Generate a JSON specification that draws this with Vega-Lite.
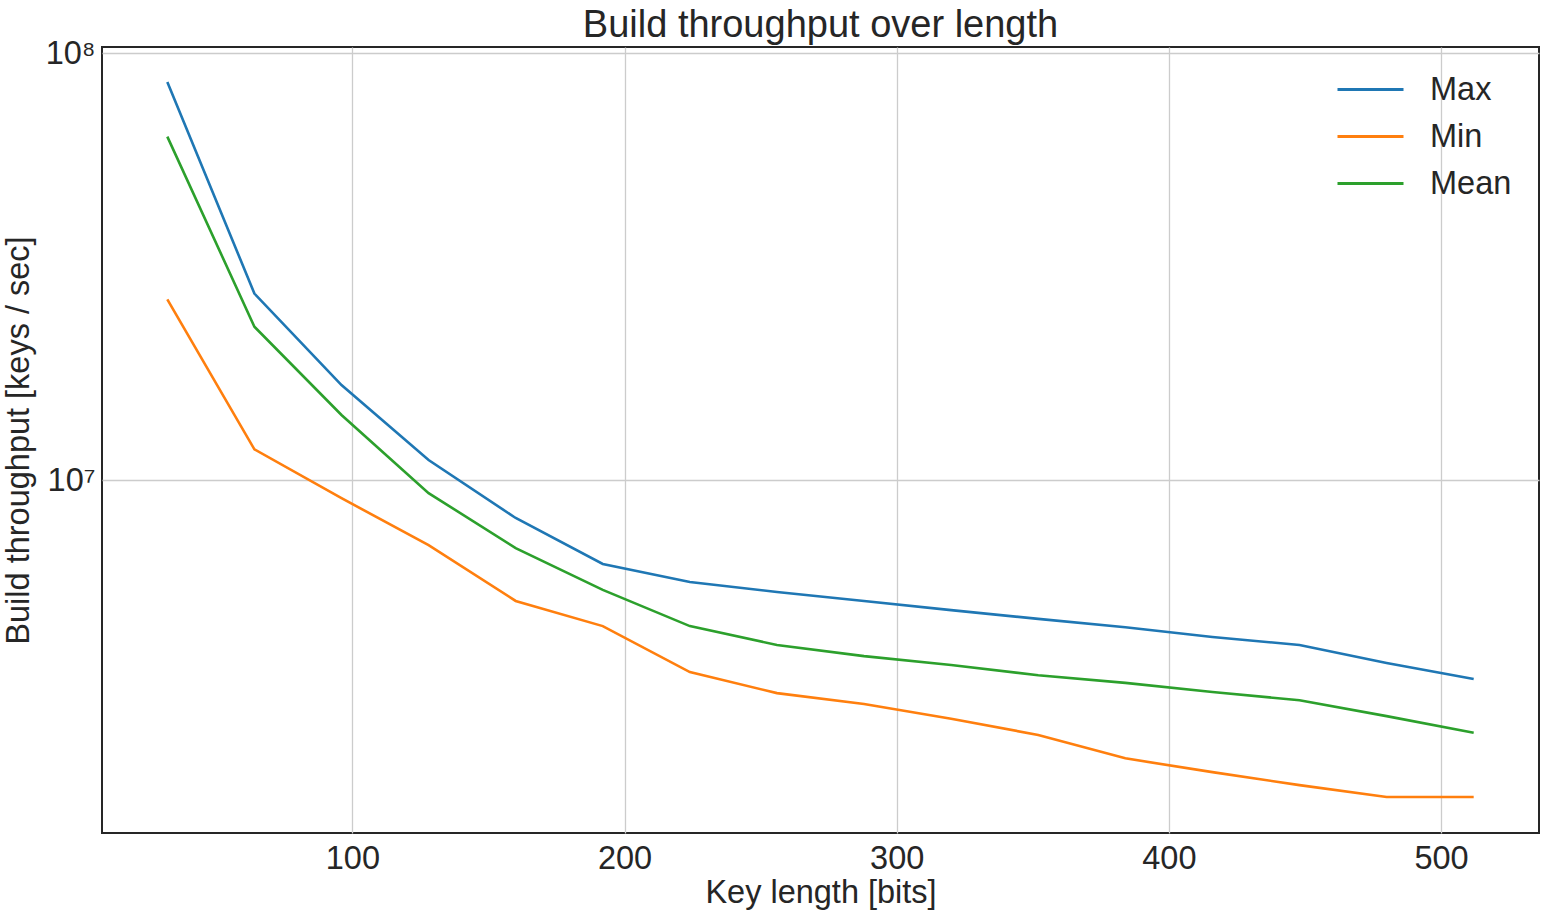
{
  "$schema": "https://vega.github.io/schema/vega-lite/v6.json",
  "autosize": {"type": "none"},
  "padding": {"left": 102, "top": 47, "right": 8, "bottom": 84},
  "width": 1437,
  "height": 786,
  "background": "white",
  "title": {"text": "Build throughput over length", "font": "Liberation Sans", "fontSize": 38, "fontWeight": "normal", "color": "#262626", "baseline": "alphabetic", "offset": -38},
  "config": {
    "view": {"stroke": "#262626", "strokeWidth": 2},
    "font": "Liberation Sans",
    "axis": {"labelFont": "Liberation Sans", "titleFont": "Liberation Sans", "labelColor": "#262626", "titleColor": "#262626", "labelFontSize": 32.5, "titleFontSize": 32.5, "titleFontWeight": "normal", "gridColor": "#cccccc", "gridWidth": 1.3, "ticks": false, "domain": false}
  },
  "data": {"values": [
    {"len": 32, "series": "Max", "value": 85500000},
    {"len": 64, "series": "Max", "value": 27340000},
    {"len": 96, "series": "Max", "value": 16690000},
    {"len": 128, "series": "Max", "value": 11140000},
    {"len": 160, "series": "Max", "value": 8150000},
    {"len": 192, "series": "Max", "value": 6360000},
    {"len": 224, "series": "Max", "value": 5770000},
    {"len": 256, "series": "Max", "value": 5470000},
    {"len": 288, "series": "Max", "value": 5210000},
    {"len": 320, "series": "Max", "value": 4960000},
    {"len": 352, "series": "Max", "value": 4730000},
    {"len": 384, "series": "Max", "value": 4520000},
    {"len": 416, "series": "Max", "value": 4290000},
    {"len": 448, "series": "Max", "value": 4110000},
    {"len": 480, "series": "Max", "value": 3730000},
    {"len": 512, "series": "Max", "value": 3420000},
    {"len": 32, "series": "Min", "value": 26500000},
    {"len": 64, "series": "Min", "value": 11800000},
    {"len": 96, "series": "Min", "value": 9070000},
    {"len": 128, "series": "Min", "value": 7040000},
    {"len": 160, "series": "Min", "value": 5210000},
    {"len": 192, "series": "Min", "value": 4550000},
    {"len": 224, "series": "Min", "value": 3550000},
    {"len": 256, "series": "Min", "value": 3170000},
    {"len": 288, "series": "Min", "value": 2990000},
    {"len": 320, "series": "Min", "value": 2760000},
    {"len": 352, "series": "Min", "value": 2530000},
    {"len": 384, "series": "Min", "value": 2230000},
    {"len": 416, "series": "Min", "value": 2070000},
    {"len": 448, "series": "Min", "value": 1930000},
    {"len": 480, "series": "Min", "value": 1810000},
    {"len": 512, "series": "Min", "value": 1810000},
    {"len": 32, "series": "Mean", "value": 63700000},
    {"len": 64, "series": "Mean", "value": 22860000},
    {"len": 96, "series": "Mean", "value": 14200000},
    {"len": 128, "series": "Mean", "value": 9320000},
    {"len": 160, "series": "Mean", "value": 6930000},
    {"len": 192, "series": "Mean", "value": 5530000},
    {"len": 224, "series": "Mean", "value": 4550000},
    {"len": 256, "series": "Mean", "value": 4110000},
    {"len": 288, "series": "Mean", "value": 3870000},
    {"len": 320, "series": "Mean", "value": 3690000},
    {"len": 352, "series": "Mean", "value": 3490000},
    {"len": 384, "series": "Mean", "value": 3350000},
    {"len": 416, "series": "Mean", "value": 3190000},
    {"len": 448, "series": "Mean", "value": 3050000},
    {"len": 480, "series": "Mean", "value": 2800000},
    {"len": 512, "series": "Mean", "value": 2560000}
  ]},
  "mark": {"type": "line", "strokeWidth": 2.6, "clip": true},
  "encoding": {
    "x": {"field": "len", "type": "quantitative", "title": "Key length [bits]",
      "scale": {"domain": [8, 536], "nice": false, "zero": false},
      "axis": {"values": [100, 200, 300, 400, 500], "labelPadding": 9, "titlePadding": 2, "grid": true}},
    "y": {"field": "value", "type": "quantitative", "title": "Build throughput [keys / sec]",
      "scale": {"type": "log", "domain": [1491000, 103300000], "nice": false},
      "axis": {"values": [10000000, 100000000], "labelExpr": "datum.value >= 50000000 ? '10⁸' : '10⁷'", "labelPadding": 7, "titlePadding": 10, "grid": true}},
    "color": {"field": "series", "type": "nominal",
      "scale": {"domain": ["Max", "Min", "Mean"], "range": ["#1f77b4", "#ff7f0e", "#2ca02c"]},
      "legend": {"title": null, "orient": "none", "legendX": 1245, "legendY": 19, "padding": 0,
        "symbolType": "M-1.5,0L1.5,0", "symbolSize": 1936, "symbolStrokeWidth": 2.8,
        "labelFontSize": 32.5, "labelFont": "Liberation Sans", "labelColor": "#262626", "labelOffset": 36, "rowPadding": 7}},
    "order": {"field": "len", "type": "quantitative"}
  }
}
